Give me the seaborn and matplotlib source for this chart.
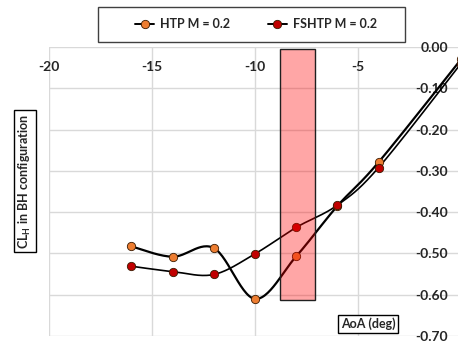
import numpy as np
import pandas as pd
import matplotlib
matplotlib.use("Agg")
import matplotlib.pyplot as plt
from matplotlib.patches import Rectangle
import seaborn as sns

# Angle of attack (deg) and horizontal-tail lift coefficient in BH configuration
aoa = [-16, -14, -12, -10, -8, -6, -4, 0]
cl_htp = [-0.483, -0.508, -0.487, -0.610, -0.507, -0.385, -0.279, -0.030]
cl_fshtp = [-0.531, -0.544, -0.551, -0.501, -0.437, -0.383, -0.292, -0.040]
series_names = ["HTP M = 0.2", "FSHTP M = 0.2"]
x_ticks = [-20, -15, -10, -5]
y_ticks = [0.00, -0.10, -0.20, -0.30, -0.40, -0.50, -0.60, -0.70]
# Highlighted AoA band and its lower CL edge
band_aoa = [-8.77, -7.09]
band_cl = [-0.005, -0.613]

W, H = 458, 345
sns.set_theme(style="white")
plt.rcParams["font.family"] = ["Lato", "DejaVu Sans"]
plt.rcParams["font.weight"] = "bold"
plt.rcParams["mathtext.fontset"] = "custom"
plt.rcParams["mathtext.bf"] = "Lato:bold"
plt.rcParams["mathtext.rm"] = "Lato:bold"

fig = plt.figure(figsize=(W / 100, H / 100), dpi=100)
ax_l, ax_r, ax_t, ax_b = 49, 461, 47, 336
ax = fig.add_axes([ax_l / W, 1 - ax_b / H, (ax_r - ax_l) / W, (ax_b - ax_t) / H])
ax.set_xlim(-20, 0)
ax.set_ylim(-0.70, 0.0)

# pixel scale used for smoothing so curves bend like a rendered spline
sx = (ax_r - ax_l) / 20.0
sy = (ax_b - ax_t) / 0.70


def smooth(xs, ys, n=30):
    p = np.column_stack([np.asarray(xs) * sx, np.asarray(ys) * sy])
    p = np.vstack([p[0], p, p[-1]])
    out = []
    for i in range(1, len(p) - 2):
        p0, p1, p2, p3 = p[i - 1], p[i], p[i + 1], p[i + 2]
        c1 = p1 + (p2 - p0) / 6.0
        c2 = p2 - (p3 - p1) / 6.0
        t = np.linspace(0, 1, n)[:, None]
        seg = ((1 - t) ** 3) * p1 + 3 * ((1 - t) ** 2) * t * c1 + 3 * (1 - t) * t ** 2 * c2 + t ** 3 * p2
        out.append(seg if i == 1 else seg[1:])
    out = np.vstack(out)
    return out[:, 0] / sx, out[:, 1] / sy


colors = ["#ED7D31", "#C00000"]
widths = [1.6, 1.2]
for name, ys, col, lw in zip(series_names, [cl_htp, cl_fshtp], colors, widths):
    cx, cy = smooth(aoa, ys)
    sns.lineplot(x=cx, y=cy, sort=False, color="black", lw=lw, ax=ax, zorder=3)
    sns.scatterplot(x=aoa, y=ys, color=col, edgecolor="#3a1a00", linewidth=0.6,
                    s=36, ax=ax, zorder=4, clip_on=True)

ax.add_patch(Rectangle((band_aoa[0], band_cl[1]), band_aoa[1] - band_aoa[0],
                       band_cl[0] - band_cl[1], facecolor=(1.0, 0.0, 0.0, 0.35),
                       edgecolor="#202020", lw=1.0, zorder=5))

for s in ax.spines.values():
    s.set_visible(False)
ax.grid(True, color="#d9d9d9", lw=1.0)
ax.set_axisbelow(True)
ax.set_xticks(x_ticks)
ax.set_yticks(y_ticks)
ax.xaxis.tick_top()
ax.yaxis.tick_right()
ax.set_xticklabels([f"{v}" for v in x_ticks])
ax.set_yticklabels([f"{v:.2f}" for v in y_ticks])
ax.tick_params(axis="x", length=0, pad=-19, labelsize=10, labelcolor="#262626")
ax.tick_params(axis="y", length=0, pad=-9.5, labelsize=10, labelcolor="#262626")
for tl in ax.get_yticklabels():
    tl.set_horizontalalignment("right")
ax.set_xlabel("")
ax.set_ylabel("")

box = dict(boxstyle="square,pad=0.25", facecolor="white", edgecolor="black", lw=1.0)
fig.text(25 / W, 1 - 181 / H, r"CL$_{\bf H}$ in BH configuration", rotation=90,
         ha="center", va="center", fontsize=9, fontweight="bold", bbox=box)
fig.text(368 / W, 1 - 324 / H, "AoA (deg)", ha="center", va="center",
         fontsize=9, fontweight="bold", bbox=box)

# legend frame and entries
fig.patches.append(Rectangle((98 / W, 1 - 42 / H), 307 / W, 35 / H, transform=fig.transFigure,
                             facecolor="white", edgecolor="#404040", lw=1.0, zorder=1))
handles = [plt.Line2D([], [], color="black", lw=1.4, marker="o", markersize=6,
                      markerfacecolor=c, markeredgecolor="#3a1a00", markeredgewidth=0.6)
           for c in colors]
fig.legend(handles, series_names, loc="center", bbox_to_anchor=(256 / W, 1 - 24.5 / H),
           ncol=2, frameon=False, fontsize=9, handlelength=1.5, handletextpad=0.5,
           columnspacing=3.0, prop={"weight": "bold", "size": 9})

fig.savefig("out.png", dpi=100)
